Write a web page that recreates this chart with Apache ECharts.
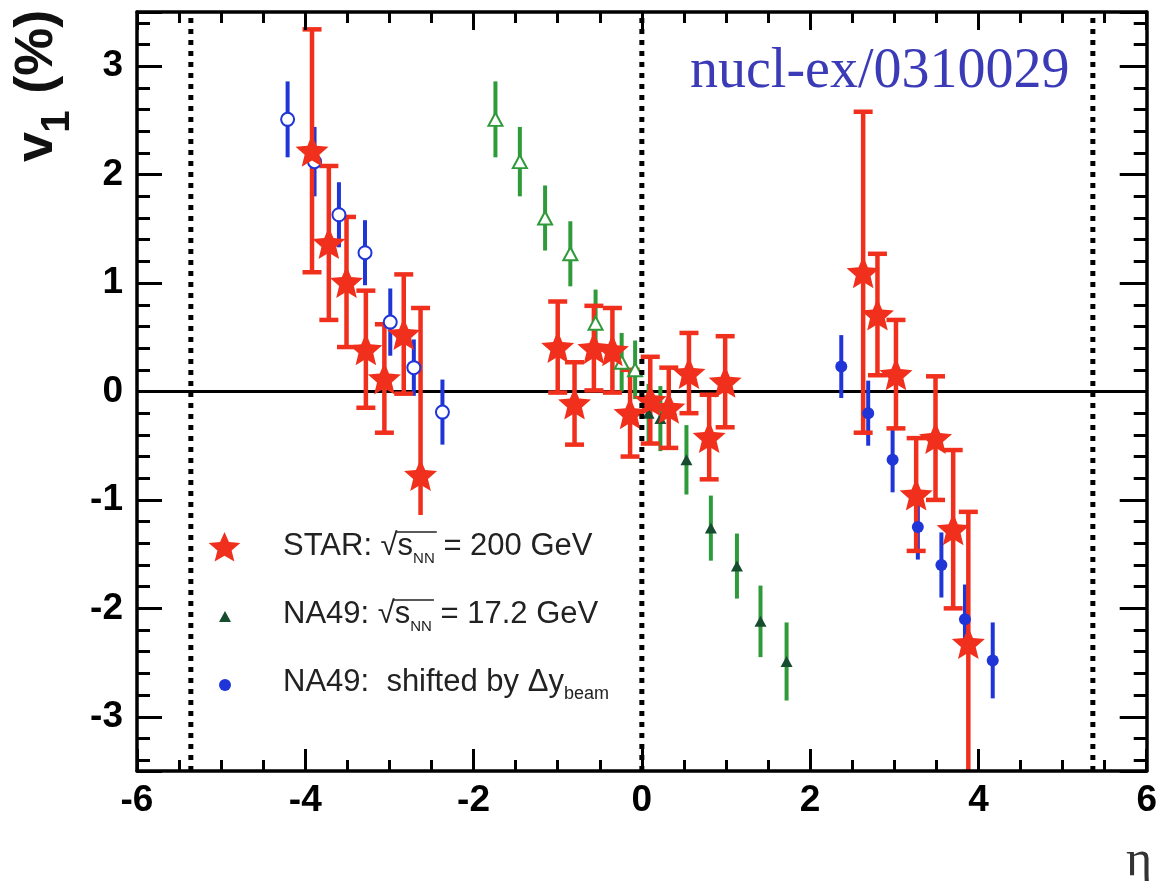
<!DOCTYPE html>
<html>
<head>
<meta charset="utf-8">
<title>v1 vs eta</title>
<script src="https://cdn.jsdelivr.net/npm/echarts@6/dist/echarts.min.js"></script>
<style>
  html, body { margin: 0; padding: 0; background: #fff; }
  #chart { width: 1160px; height: 881px; }
</style>
</head>
<body>
<div id="chart"></div>
<script>
// STAR, Au+Au at sqrt(s_NN) = 200 GeV : directed flow v1 (%) vs pseudorapidity
const starEta = [-3.92, -3.72, -3.51, -3.28, -3.06, -2.83, -2.63,
                 -1.00, -0.80, -0.57, -0.35, -0.14, 0.10, 0.32, 0.56, 0.80, 0.99,
                 2.63, 2.80, 3.02, 3.26, 3.49, 3.70, 3.88];
const starV1 = [2.22, 1.37, 1.01, 0.39, 0.12, 0.53, -0.77,
                0.41, -0.11, 0.40, 0.38, -0.20, -0.08, -0.15, 0.17, -0.42, 0.09,
                1.10, 0.71, 0.16, -0.95, -0.43, -1.27, -2.32];
const starErr = [1.12, 0.71, 0.60, 0.54, 0.50, 0.55, 1.54,
                 0.42, 0.38, 0.39, 0.39, 0.40, 0.40, 0.37, 0.37, 0.39, 0.42,
                 1.48, 0.56, 0.50, 0.52, 0.57, 0.73, 1.21];

// NA49, Pb+Pb at sqrt(s_NN) = 17.2 GeV (open symbols: reflected points)
const na49Eta = [-1.74, -1.45, -1.15, -0.85, -0.55, -0.24, -0.08,
                 0.08, 0.22, 0.53, 0.82, 1.13, 1.41, 1.72];
const na49V1 = [2.51, 2.12, 1.60, 1.27, 0.63, 0.27, 0.20,
                -0.20, -0.25, -0.63, -1.26, -1.61, -2.12, -2.49];
const na49Err = [0.35, 0.32, 0.30, 0.30, 0.31, 0.27, 0.27,
                 0.27, 0.30, 0.32, 0.30, 0.30, 0.33, 0.36];

// NA49 shifted by the beam rapidity difference
const shiftEta = [-4.21, -3.89, -3.60, -3.29, -2.99, -2.71, -2.37,
                  2.37, 2.69, 2.98, 3.28, 3.56, 3.84, 4.17];
const shiftV1 = [2.51, 2.12, 1.63, 1.28, 0.64, 0.22, -0.19,
                 0.23, -0.20, -0.63, -1.25, -1.60, -2.10, -2.48];
const shiftErr = [0.35, 0.32, 0.30, 0.30, 0.31, 0.26, 0.30,
                  0.29, 0.30, 0.30, 0.30, 0.30, 0.32, 0.35];

// vertical guides: beam rapidity (+/-) and mid-rapidity
const guideEta = [-5.36, 0, 5.36];

const RED = '#f0301c';
const GREEN = '#2f9a3a';
const DKGREEN = '#174d2f';
const BLUE = '#1f35d8';

// five-pointed star outline in a 100 x 100 box
const STAR_PTS = [[50, 0], [63.5, 31.5], [98, 34.6], [71.5, 57.5], [80, 92],
                  [50, 74], [20, 92], [28.5, 57.5], [2, 34.6], [36.5, 31.5]];
const STAR_PATH = 'M' + STAR_PTS.map(p => p[0] + ' ' + p[1]).join(' L') + ' Z';

function pairs(xs, ys, keep) {
  const out = [];
  xs.forEach((x, i) => { if (!keep || keep(x)) out.push([x, ys[i]]); });
  return out;
}

function errorBars(xs, ys, es, color, width, capHalf, z) {
  return {
    type: 'custom', z: z, clip: true, silent: true,
    data: xs.map((x, i) => [x, ys[i], es[i]]),
    encode: { x: 0, y: 1 },
    renderItem(params, api) {
      const x = api.value(0), y = api.value(1), e = api.value(2);
      const hi = api.coord([x, y + e]);
      const lo = api.coord([x, y - e]);
      const st = { stroke: color, lineWidth: width };
      const kids = [{ type: 'line', shape: { x1: hi[0], y1: hi[1], x2: lo[0], y2: lo[1] }, style: st }];
      if (capHalf > 0) {
        kids.push({ type: 'line', shape: { x1: hi[0] - capHalf, y1: hi[1], x2: hi[0] + capHalf, y2: hi[1] }, style: st });
        kids.push({ type: 'line', shape: { x1: lo[0] - capHalf, y1: lo[1], x2: lo[0] + capHalf, y2: lo[1] }, style: st });
      }
      return { type: 'group', children: kids };
    }
  };
}

function guideLine(x) {
  return {
    type: 'line', z: 100, silent: true, symbol: 'none',
    data: [[x, -3.5], [x, 3.5]],
    lineStyle: { color: '#000', width: 5, type: [5, 6], cap: 'butt' }
  };
}

const FONT = '"Liberation Sans", Arial, sans-serif';
const axisLineStyle = { color: '#000', width: 3.5 };
const tickStyle = { color: '#000', width: 3 };

function xAxisDef(pos, majorLen, showLabel) {
  return {
    type: 'value', position: pos, min: -6, max: 6, interval: 2, z: 20,
    axisLine: { show: true, onZero: false, lineStyle: axisLineStyle },
    axisTick: { show: true, inside: true, length: majorLen, lineStyle: tickStyle },
    minorTick: { show: true, splitNumber: 4, length: 11, lineStyle: tickStyle },
    splitLine: { show: false },
    axisLabel: { show: showLabel, fontSize: 37, fontWeight: 'bold', color: '#000', fontFamily: FONT, margin: 11 }
  };
}
function yAxisDef(pos, majorLen, showLabel) {
  return {
    type: 'value', position: pos, min: -3.5, max: 3.5, splitNumber: 7, z: 20,
    axisLine: { show: true, onZero: false, lineStyle: axisLineStyle },
    axisTick: { show: true, inside: true, length: majorLen, lineStyle: tickStyle },
    minorTick: { show: true, splitNumber: 5, length: 13, lineStyle: tickStyle },
    splitLine: { show: false },
    axisLabel: { show: showLabel, showMinLabel: false, showMaxLabel: false,
                 fontSize: 37, fontWeight: 'bold', color: '#000', fontFamily: FONT, margin: 14 }
  };
}

// text measuring for hand-placed legend runs
const mctx = document.createElement('canvas').getContext('2d');
function textW(str, size) { mctx.font = size + 'px ' + FONT; return mctx.measureText(str).width; }
function midFromBase(base, size) { return base - 0.3465 * size; }

function legendRow(x0, base, runs, overFrom, overTo) {
  const els = [];
  let x = x0;
  const pos = [];
  runs.forEach(r => {
    const w = textW(r.t, r.size);
    pos.push([x, x + w]);
    els.push({
      type: 'text', z: 60, silent: true,
      style: { text: r.t, x: x, y: midFromBase(base + (r.dy || 0), r.size),
               font: r.size + 'px ' + FONT, fill: '#222', align: 'left', verticalAlign: 'middle' }
    });
    x += w;
  });
  if (overFrom != null) {
    els.push({
      type: 'line', z: 60, silent: true,
      shape: { x1: pos[overFrom][0] - 1, y1: base - 25, x2: pos[overTo][1] + 2, y2: base - 25 },
      style: { stroke: '#222', lineWidth: 1.6 }
    });
  }
  return els;
}

const LS = 31, SUB = 15;
const legendEls = [
  { type: 'rect', z: 50, silent: true, shape: { x: 196, y: 515, width: 443, height: 205 }, style: { fill: '#fff' } },
  { type: 'polygon', z: 60, silent: true,
    shape: { points: STAR_PTS.map(p => [208 + p[0] * 0.33, 532 + p[1] * 0.32]) }, style: { fill: RED } },
  { type: 'polygon', z: 60, silent: true, shape: { points: [[225, 611], [231, 622], [219, 622]] }, style: { fill: DKGREEN } },
  { type: 'circle', z: 60, silent: true, shape: { cx: 225, cy: 685, r: 6 }, style: { fill: BLUE } },
  ...legendRow(283, 557, [
    { t: 'STAR: \u221A', size: LS }, { t: 's', size: LS }, { t: 'NN', size: SUB, dy: 7 }, { t: ' = 200 GeV', size: LS }
  ], 1, 2),
  ...legendRow(283, 625, [
    { t: 'NA49: \u221A', size: LS }, { t: 's', size: LS }, { t: 'NN', size: SUB, dy: 7 }, { t: ' = 17.2 GeV', size: LS }
  ], 1, 2),
  ...legendRow(283, 693, [
    { t: 'NA49:  shifted by \u0394y', size: LS }, { t: 'beam', size: SUB + 3, dy: 7 }
  ], null, null)
];

// rotated y-axis title: v_1 (%)
const vW = textW('v', 54) * 1.08;
const oneW = textW('1', 40) * 1.08;
const yTitle = {
  type: 'group', x: 56, y: 162, rotation: Math.PI / 2, silent: true,
  children: [
    { type: 'text', style: { text: 'v', x: 0, y: -0.3465 * 54, font: 'bold 54px ' + FONT, fill: '#111', align: 'left', verticalAlign: 'middle' } },
    { type: 'text', style: { text: '1', x: vW, y: 16 - 0.3465 * 40, font: 'bold 40px ' + FONT, fill: '#111', align: 'left', verticalAlign: 'middle' } },
    { type: 'text', style: { text: ' (%)', x: vW + oneW, y: -0.3465 * 54, font: 'bold 54px ' + FONT, fill: '#111', align: 'left', verticalAlign: 'middle' } }
  ]
};

const option = {
  animation: false,
  backgroundColor: '#fff',
  grid: { left: 137, right: 8, top: 12, bottom: 110, containLabel: false },
  xAxis: [xAxisDef('bottom', 22, true), xAxisDef('top', 18, false)],
  yAxis: [yAxisDef('left', 25, true), yAxisDef('right', 27, false)],
  series: [
    { // v1 = 0 reference line
      type: 'line', z: 1, silent: true, symbol: 'none',
      data: [[-6, 0], [6, 0]],
      lineStyle: { color: '#000', width: 2.8 }
    },
    errorBars(shiftEta, shiftV1, shiftErr, BLUE, 4, 0, 2),
    errorBars(na49Eta, na49V1, na49Err, GREEN, 4, 0, 2),
    errorBars(starEta, starV1, starErr, RED, 4.5, 9.5, 3),
    {
      type: 'scatter', z: 4, silent: true, symbol: 'circle', symbolSize: 13,
      data: pairs(shiftEta, shiftV1, x => x < 0),
      itemStyle: { color: '#fff', borderColor: BLUE, borderWidth: 2, opacity: 1 }
    },
    {
      type: 'scatter', z: 4, silent: true, symbol: 'circle', symbolSize: 12,
      data: pairs(shiftEta, shiftV1, x => x > 0),
      itemStyle: { color: BLUE, opacity: 1 }
    },
    {
      type: 'scatter', z: 4, silent: true, symbol: 'triangle', symbolSize: [14, 13],
      data: pairs(na49Eta, na49V1, x => x < 0),
      itemStyle: { color: '#fff', borderColor: GREEN, borderWidth: 2, opacity: 1 }
    },
    {
      type: 'scatter', z: 4, silent: true, symbol: 'triangle', symbolSize: [12, 11],
      data: pairs(na49Eta, na49V1, x => x > 0),
      itemStyle: { color: DKGREEN, opacity: 1 }
    },
    {
      type: 'scatter', z: 5, silent: true, symbol: 'path://' + STAR_PATH, symbolSize: [33, 32],
      data: pairs(starEta, starV1),
      itemStyle: { color: RED, opacity: 1 }
    },
    ...guideEta.map(guideLine)
  ],
  graphic: [
    { type: 'text', z: 60, silent: true,
      style: { text: 'nucl-ex/0310029', x: 690, y: 72, font: '56px "Liberation Serif", "Times New Roman", serif',
               fill: '#3b3bb8', align: 'left', verticalAlign: 'middle' } },
    { type: 'text', z: 60, silent: true,
      style: { text: '\u03B7', x: 1139, y: 862, font: '50px "Liberation Serif", "DejaVu Serif", serif',
               fill: '#333', align: 'center', verticalAlign: 'middle' } },
    yTitle,
    ...legendEls
  ]
};

const chart = echarts.init(document.getElementById('chart'));
chart.setOption(option);
</script>
</body>
</html>
